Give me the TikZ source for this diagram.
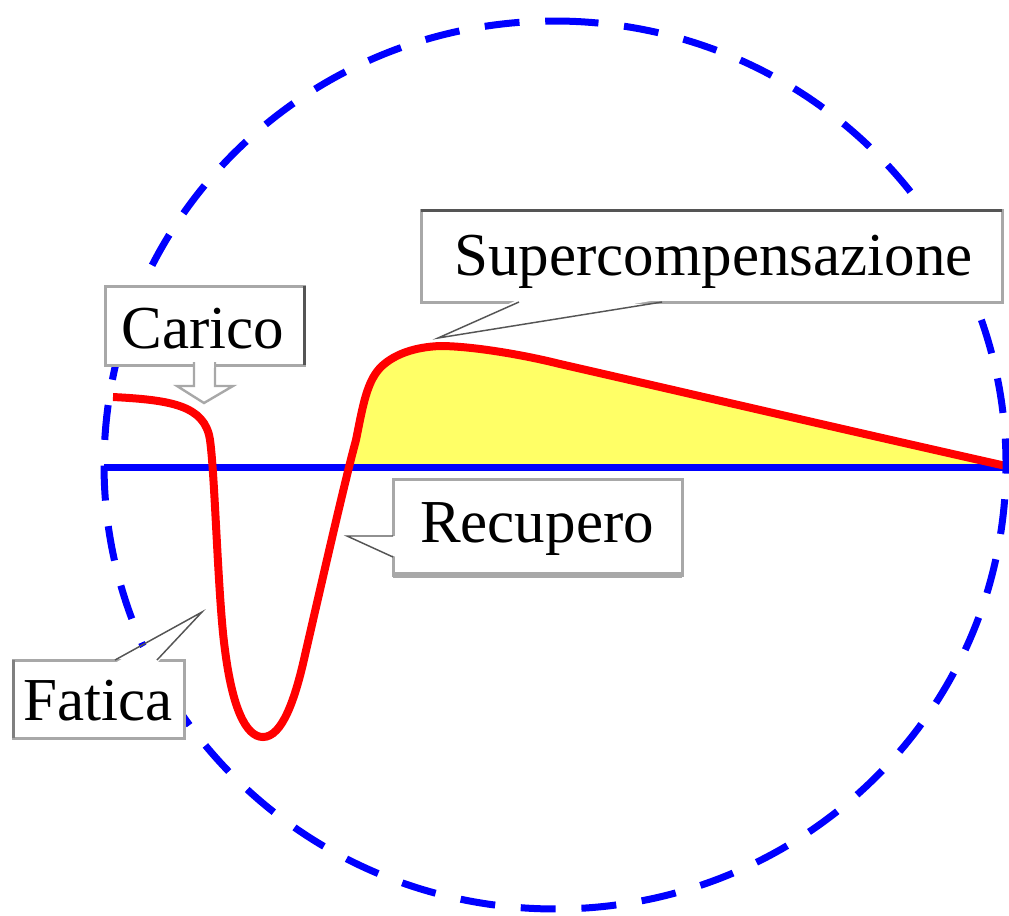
\documentclass[tikz,border=0pt]{standalone}
\usepackage{fontspec}
\setmainfont{Liberation Serif}
\usetikzlibrary{calc}
\definecolor{cblue}{RGB}{0,0,255}
\definecolor{cred}{RGB}{255,0,0}
\definecolor{cyel}{RGB}{255,255,102}
\definecolor{boxgray}{RGB}{168,168,168}
\definecolor{edgedark}{RGB}{85,85,85}
\definecolor{edgemid}{RGB}{128,128,128}
\begin{document}
\begin{tikzpicture}[x=0.75pt,y=-0.75pt,
  callbox/.style={draw=boxgray, line width=2.25pt, fill=white, rectangle, inner sep=0pt, outer sep=0pt},
  lbl/.style={anchor=base, font=\fontsize{45.75}{50}\selectfont, inner sep=0pt},
  ptr/.style={draw=edgedark, line width=1.1pt},
  cover/.style={fill=white},
  curvestyle/.style={draw=cred, line width=6pt},
  axisstyle/.style={draw=cblue, line width=5.25pt},
  circstyle/.style={draw=cblue, line width=5.25pt, dash pattern=on 26.25pt off 19.3pt},
]
\useasboundingbox (0,0) rectangle (1009,915);

\def\redpath{(113,397) .. controls (170,400) and (205,405) .. (210,440)
  .. controls (215,475) and (218,600) .. (225,650)
  .. controls (232,705) and (245,737) .. (263,737)
  .. controls (282,737) and (295,700) .. (305,655)
  .. controls (320,590) and (345,480) .. (356,440)
  .. controls (363,405) and (367,380) .. (382,366)
  .. controls (395,354) and (415,347) .. (440,346)
  .. controls (470,346) and (520,354) .. (560,364)
  .. controls (700,396) and (850,431) .. (1006,466)}

% yellow area above the axis
\begin{scope}
  \clip (340,0) rectangle (1006,467);
  \fill[cyel] \redpath -- (1006,467) -- (340,467) -- cycle;
\end{scope}

% axis
\coordinate (axL) at (104,467);
\coordinate (axR) at (1006,467);
\draw[axisstyle] (axL) -- (axR);

% red curve
\draw[curvestyle] \redpath;

% dashed circle
\coordinate (circS) at (580.2,21.7);
\draw[circstyle] (circS) arc[start angle=86.8, end angle=446.8, x radius=338.25pt, y radius=333pt];

% boxes
\node[callbox, minimum width=149.25pt, minimum height=59.25pt] (carico) at (204.5,325.5) {};
\node[callbox, minimum width=128.25pt, minimum height=58.5pt] (fatica) at (98.5,699) {};
\node[callbox, minimum width=216.75pt, minimum height=72pt] (recupero) at (537.5,527) {};
\node[callbox, minimum width=435.75pt, minimum height=69pt] (super) at (711.5,256) {};

% edge shading details
\draw[draw=edgedark, line width=2.25pt] (super.north west) -- (super.north east);
\draw[draw=edgedark, line width=2.25pt] (carico.north east) -- (carico.south east);
\draw[draw=edgemid, line width=2.25pt] (fatica.north west) -- (fatica.south west);
\draw[draw=boxgray, line width=4pt] (recupero.south west) -- (recupero.south east);

% Carico block arrow
\coordinate (arrowTip) at (204,403);
\filldraw[fill=white, draw=boxgray, line width=1.8pt]
  ($(carico.south west)+(89,-3)$) -- ($(carico.south west)+(89,21)$) -- ($(carico.south west)+(72,21)$)
  -- (arrowTip) -- ($(carico.south west)+(128,21)$) -- ($(carico.south west)+(110,21)$) -- ($(carico.south west)+(110,-3)$);
\fill[white] ($(carico.south west)+(90.5,-3)$) rectangle ($(carico.south west)+(108.5,3)$);

% Supercompensazione pointer
\coordinate (supTip) at (438,338);
\fill[cover] ($(super.south west)+(98,-3)$) -- (supTip) -- ($(super.south west)+(241,-3)$) -- cycle;
\draw[ptr] ($(super.south west)+(98,0)$) -- (supTip) -- ($(super.south west)+(241,0)$);

% Recupero pointer
\coordinate (recTip) at (347,536);
\fill[cover] ($(recupero.north west)+(3,57)$) -- (recTip) -- ($(recupero.north west)+(3,78)$) -- cycle;
\draw[ptr] ($(recupero.north west)+(0,57)$) -- (recTip) -- ($(recupero.north west)+(0,78)$);

% Fatica pointer
\coordinate (fatTip) at (202,612);
\fill[cover] ($(fatica.north west)+(102,3)$) -- (fatTip) -- ($(fatica.north west)+(144,3)$) -- cycle;
\draw[ptr] ($(fatica.north west)+(102,0)$) -- (fatTip) -- ($(fatica.north west)+(144,0)$);

% labels
\node[lbl] (tcarico) at (203,348) {Carico};
\node[lbl] (tfatica) at (98.5,720) {Fatica};
\node[lbl] (trecupero) at (537,542) {Recupero};
\node[lbl] (tsuper) at (713.5,275) {Supercompensazione};
\end{tikzpicture}
\end{document}
